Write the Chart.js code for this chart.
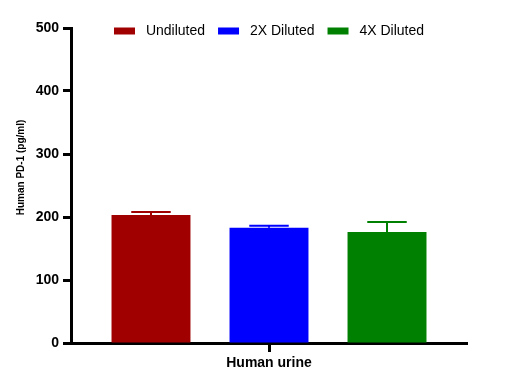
<!DOCTYPE html>
<html>
<head>
<meta charset="utf-8">
<script src="https://cdn.jsdelivr.net/npm/chart.js@4.4.0/dist/chart.umd.min.js"></script>
<style>
    html, body { margin: 0; padding: 0; background: #fff; }
    #contenedor { width: 511px; height: 389px; }
</style>
</head>
<body>
<div id="contenedor"><canvas id="grafico"></canvas></div>
<script>
const categorias = ['Human urine'];
const series = ['Undiluted', '2X Diluted', '4X Diluted'];
const medias = [203, 183, 176];   // altura de cada barra
const errores = [5, 3, 16];       // error hacia arriba
const colores = ['#a00000', '#0000ff', '#008000'];
const yTicks = [0, 100, 200, 300, 400, 500];
const yTitulo = 'Human PD-1 (pg/ml)';

const fuente = "'Liberation Sans', Arial, sans-serif";

/* barras de error (solo hacia arriba) */
const barrasError = {
    id: 'barrasError',
    afterDatasetsDraw(chart) {
        const { ctx, scales: { y } } = chart;
        ctx.save();
        chart.data.datasets.forEach((ds, i) => {
            const bar = chart.getDatasetMeta(i).data[0];
            const tope = y.getPixelForValue(medias[i] + errores[i]);
            const mitad = bar.width / 4;
            ctx.strokeStyle = colores[i];
            ctx.lineWidth = 2;
            ctx.beginPath();
            ctx.moveTo(bar.x, bar.y);
            ctx.lineTo(bar.x, tope);
            ctx.moveTo(bar.x - mitad, tope);
            ctx.lineTo(bar.x + mitad, tope);
            ctx.stroke();
        });
        ctx.restore();
    }
};

/* la leyenda se dibuja encima del area del grafico */
const leyendaFija = {
    id: 'leyendaFija',
    beforeLayout(chart) {
        const lg = chart.legend;
        if (lg && !lg._fija) {
            const fit = lg.fit;
            lg.fit = function () { fit.call(this); this.height = 17; };
            lg._fija = true;
        }
    },
    afterLayout(chart) {
        // agrandar la zona de recorte para que no se corte el texto
        const lg = chart.legend;
        if (lg) {
            lg.height = 40;
            lg.bottom = lg.top + 40;
        }
    }
};

new Chart(document.getElementById('grafico'), {
    type: 'bar',
    data: {
        labels: categorias,
        datasets: series.map((nombre, i) => ({
            label: nombre,
            data: [medias[i]],
            backgroundColor: colores[i],
            borderWidth: 0,
            categoryPercentage: 0.894,
            barPercentage: 0.669
        }))
    },
    options: {
        responsive: true,
        maintainAspectRatio: false,
        animation: false,
        layout: { padding: { left: 0, right: 44, top: 11, bottom: 0 } },
        plugins: {
            tooltip: { enabled: false },
            legend: {
                position: 'top',
                fullSize: false,
                labels: {
                    boxWidth: 21,
                    boxHeight: 7,
                    padding: 13,
                    color: '#000',
                    font: { family: fuente, size: 14 },
                    generateLabels: c => Chart.defaults.plugins.legend.labels.generateLabels(c)
                        .map(l => ({ ...l, text: ' ' + l.text }))
                }
            }
        },
        scales: {
            x: {
                afterFit: s => { s.height = 46; },
                border: { display: true, color: '#000', width: 3 },
                grid: { offset: false, drawOnChartArea: false, tickLength: 9, tickWidth: 3, tickColor: '#000' },
                ticks: { color: '#000', padding: 3, font: { family: fuente, size: 14, weight: 'bold' } }
            },
            y: {
                min: 0,
                max: 500,
                afterBuildTicks: s => { s.ticks = yTicks.map(v => ({ value: v })); },
                afterFit: s => { s.width = 71; },
                border: { display: true, color: '#000', width: 3 },
                grid: { drawOnChartArea: false, tickLength: 8, tickWidth: 3, tickColor: '#000' },
                ticks: { color: '#000', padding: 4, font: { family: fuente, size: 14, weight: 'bold' } },
                title: {
                    display: true,
                    text: ' '.repeat(13) + yTitulo,
                    color: '#000',
                    padding: { top: 15, bottom: 0 },
                    font: { family: fuente, size: 10, weight: 'bold' }
                }
            }
        }
    },
    plugins: [barrasError, leyendaFija]
});
</script>
</body>
</html>
